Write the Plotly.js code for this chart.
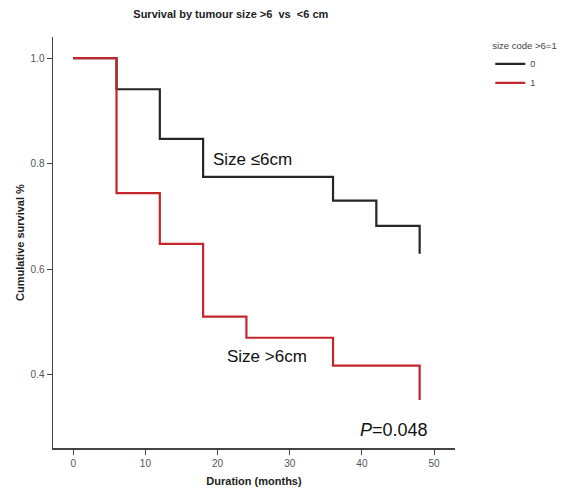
<!DOCTYPE html>
<html><head><meta charset="utf-8">
<script src="https://cdn.plot.ly/plotly-3.0.1.min.js"></script>
<style>html,body{margin:0;padding:0;background:#fff}#c{width:570px;height:497px}</style>
</head><body><div id="c"></div>
<script>
// Group 0: size <= 6 cm
const timesSmall = [0, 6, 12, 18, 36, 42, 48];
const survSmall = [1.0, 0.941, 0.847, 0.775, 0.730, 0.682, 0.629];
// Group 1: size > 6 cm
const timesLarge = [0, 6, 12, 18, 24, 36, 48];
const survLarge = [1.0, 0.744, 0.648, 0.510, 0.470, 0.417, 0.352];
const groupNames = ["0", "1"];
const xTicks = [0, 10, 20, 30, 40, 50];
const yTicks = [0.4, 0.6, 0.8, 1.0];
const yTickLabels = ["0.4", "0.6", "0.8", "1.0"];

const traces = [
  {x: timesSmall, y: survSmall, name: groupNames[0], type: 'scatter', mode: 'lines',
   line: {shape: 'hv', color: '#262626', width: 2.2}},
  {x: timesLarge, y: survLarge, name: groupNames[1], type: 'scatter', mode: 'lines',
   line: {shape: 'hv', color: '#c1272d', width: 2.2}}
];

const boldFont = {family: 'Liberation Sans, Arial, sans-serif', size: 11, color: '#222'};
const axisFont = {family: 'Liberation Sans, Arial, sans-serif', size: 10, color: '#555'};
const layout = {
  width: 570, height: 497,
  margin: {l: 53, r: 114, t: 37, b: 49},
  paper_bgcolor: '#fff', plot_bgcolor: '#fff',
  title: {text: '<b>Survival by tumour size >6  vs  <6 cm</b>', x: 0.405, xanchor: 'center', y: 0.972, yanchor: 'middle',
          font: boldFont},
  xaxis: {range: [-2.8, 52.9], tickvals: xTicks, ticks: 'outside', ticklen: 5, tickcolor: '#444',
          showline: true, linecolor: '#444', linewidth: 1.5, showgrid: false, zeroline: false,
          tickfont: axisFont,
          title: {text: '<b>Duration (months)</b>', standoff: 10, font: boldFont}},
  yaxis: {range: [0.261, 1.04], tickvals: yTicks, ticktext: yTickLabels, ticks: 'outside', ticklen: 5, tickcolor: '#444',
          showline: true, linecolor: '#444', linewidth: 1.5, showgrid: false, zeroline: false,
          tickfont: axisFont,
          title: {text: '<b>Cumulative survival %</b>', standoff: 3, font: boldFont}},
  legend: {x: 1.085, xanchor: 'left', y: 1.0, yanchor: 'top', itemwidth: 30, tracegroupgap: 0,
           title: {text: 'size code >6=1', font: {family: 'Liberation Sans, Arial, sans-serif', size: 9.5, color: '#444'}},
           font: {family: 'Liberation Sans, Arial, sans-serif', size: 9, color: '#444'}},
  showlegend: true,
  annotations: [
    {x: 24.8, y: 0.807, xref: 'x', yref: 'y', text: 'Size ≤6cm', showarrow: false,
     font: {family: 'Liberation Sans, Arial, sans-serif', size: 17, color: '#111'}},
    {x: 26.8, y: 0.434, xref: 'x', yref: 'y', text: 'Size >6cm', showarrow: false,
     font: {family: 'Liberation Sans, Arial, sans-serif', size: 17, color: '#111'}},
    {x: 44.4, y: 0.295, xref: 'x', yref: 'y', text: '<i>P</i>=0.048', showarrow: false,
     font: {family: 'Liberation Sans, Arial, sans-serif', size: 18, color: '#111'}}
  ]
};
Plotly.newPlot('c', traces, layout, {displayModeBar: false, staticPlot: true});
</script></body></html>
